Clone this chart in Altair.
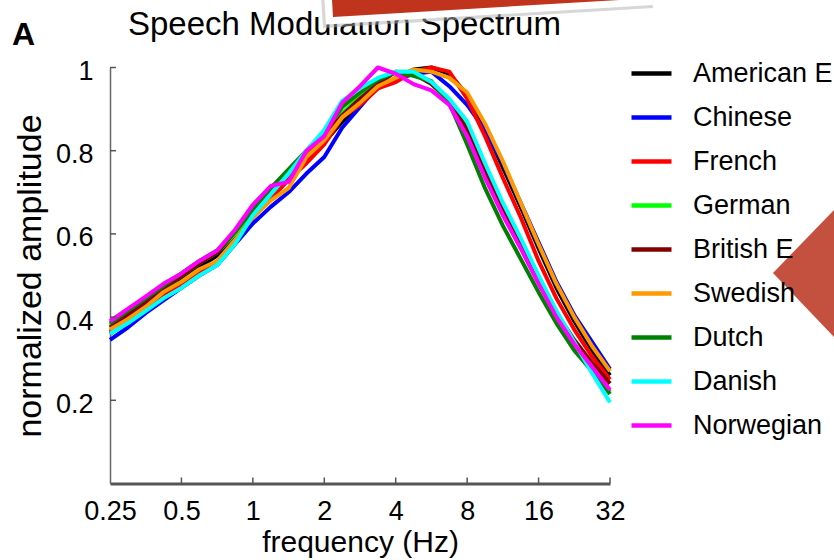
import altair as alt
import pandas as pd

# ---------------- data ----------------
freqs = [0.25, 0.297, 0.354, 0.42, 0.5, 0.595, 0.707, 0.841, 1.0, 1.189, 1.414,
         1.682, 2.0, 2.378, 2.828, 3.364, 4.0, 4.757, 5.657, 6.727, 8.0, 9.514,
         11.31, 13.45, 16.0, 19.03, 22.63, 26.91, 32.0]

languages = ["American E", "Chinese", "French", "German", "British E",
             "Swedish", "Dutch", "Danish", "Norwegian"]
colors = ["#000000", "#0000FF", "#FF0000", "#00FF00", "#800000",
          "#FF9900", "#008000", "#00FFFF", "#FF00FF"]

american_e = [0.36, 0.39, 0.425, 0.46, 0.49, 0.52, 0.548, 0.59, 0.645, 0.69, 0.735, 0.775, 0.82, 0.87, 0.91, 0.95,
              0.975, 0.995, 1.0, 0.985, 0.935, 0.855, 0.76, 0.665, 0.565, 0.47, 0.39, 0.32, 0.26]
chinese = [0.345, 0.375, 0.41, 0.44, 0.47, 0.50, 0.525, 0.575, 0.625, 0.665, 0.70, 0.745, 0.785, 0.855, 0.905, 0.955,
           0.97, 0.985, 0.99, 0.955, 0.91, 0.85, 0.77, 0.675, 0.58, 0.485, 0.405, 0.34, 0.275]
french = [0.365, 0.395, 0.425, 0.455, 0.48, 0.51, 0.53, 0.585, 0.64, 0.685, 0.73, 0.77, 0.815, 0.88, 0.91, 0.95,
          0.965, 0.99, 1.0, 0.99, 0.925, 0.835, 0.735, 0.64, 0.535, 0.445, 0.37, 0.305, 0.25]
german = [0.38, 0.41, 0.44, 0.47, 0.50, 0.53, 0.555, 0.60, 0.655, 0.70, 0.745, 0.795, 0.84, 0.89, 0.93, 0.965,
          0.99, 0.99, 0.965, 0.92, 0.86, 0.76, 0.67, 0.585, 0.495, 0.41, 0.34, 0.28, 0.22]
british_e = [0.375, 0.405, 0.435, 0.47, 0.50, 0.53, 0.555, 0.605, 0.66, 0.71, 0.75, 0.79, 0.835, 0.885, 0.925, 0.96,
             0.99, 0.985, 0.96, 0.92, 0.85, 0.75, 0.66, 0.575, 0.49, 0.41, 0.345, 0.29, 0.24]
swedish = [0.37, 0.395, 0.425, 0.46, 0.485, 0.515, 0.535, 0.585, 0.64, 0.68, 0.71, 0.785, 0.825, 0.88, 0.915, 0.955,
           0.975, 0.995, 0.99, 0.975, 0.94, 0.865, 0.775, 0.675, 0.575, 0.48, 0.40, 0.33, 0.27]
dutch = [0.385, 0.415, 0.445, 0.475, 0.505, 0.535, 0.56, 0.605, 0.66, 0.71, 0.755, 0.80, 0.845, 0.905, 0.94, 0.97,
         0.988, 0.98, 0.967, 0.915, 0.815, 0.71, 0.62, 0.54, 0.46, 0.385, 0.32, 0.27, 0.215]
danish = [0.36, 0.385, 0.415, 0.445, 0.47, 0.50, 0.525, 0.575, 0.645, 0.695, 0.745, 0.80, 0.85, 0.92, 0.95, 0.975,
          0.99, 0.99, 0.965, 0.925, 0.87, 0.77, 0.675, 0.59, 0.50, 0.415, 0.34, 0.265, 0.195]
norwegian = [0.39, 0.42, 0.45, 0.48, 0.505, 0.535, 0.56, 0.61, 0.67, 0.715, 0.725, 0.80, 0.835, 0.915, 0.955, 1.0,
             0.985, 0.96, 0.945, 0.91, 0.835, 0.735, 0.645, 0.565, 0.48, 0.40, 0.335, 0.28, 0.225]

x_ticks = [0.25, 0.5, 1, 2, 4, 8, 16, 32]
y_ticks = [0.2, 0.4, 0.6, 0.8, 1.0]

series = [american_e, chinese, french, german, british_e, swedish, dutch, danish, norwegian]
rows = []
for lang, vals in zip(languages, series):
    for f, v in zip(freqs, vals):
        rows.append({"language": lang, "freq": f, "amp": v})
df = pd.DataFrame(rows)

# ---------------- chart ----------------
FONT = "Liberation Sans"
W, H = 500, 416

xscale = alt.Scale(type="log", base=2, domain=[0.25, 32], nice=False)
yscale = alt.Scale(domain=[0, 1], nice=False, zero=True)

xaxis = alt.Axis(values=x_ticks, format="~g", title="frequency (Hz)",
                 labelFont=FONT, titleFont=FONT, labelColor="black", titleColor="black",
                 labelFontSize=27, labelPadding=15, ticks=False,
                 domainColor="#555555", domainWidth=3, labelFlush=False,
                 labelOverlap=False, titleFontSize=30, titleFontWeight="normal",
                 titleY=68, titleBaseline="alphabetic", grid=False)
yaxis = alt.Axis(values=y_ticks, format="~g", title="normalized amplitude",
                 labelFont=FONT, titleFont=FONT, labelColor="black", titleColor="black",
                 labelFontSize=27, labelPadding=17, labelOffset=4, ticks=False,
                 domainColor="#666666", domainWidth=1.5, labelFlush=False,
                 labelOverlap=False, titleFontSize=34, titleFontWeight="normal",
                 titleX=-70, titleBaseline="alphabetic", grid=False)

lines = alt.Chart(df).mark_line(strokeWidth=4, strokeJoin="round").encode(
    x=alt.X("freq:Q", scale=xscale, axis=xaxis),
    y=alt.Y("amp:Q", scale=yscale, axis=yaxis),
    color=alt.Color("language:N", sort=languages,
                    scale=alt.Scale(domain=languages, range=colors),
                    legend=alt.Legend(title=None, orient="none", legendX=519, legendY=-16.5,
                                      symbolType="stroke", symbolSize=1600,
                                      symbolStrokeWidth=4.5, labelFontSize=27,
                                      labelFont=FONT, labelColor="black",
                                      labelOffset=19, rowPadding=8, padding=0,
                                      labelLimit=300)),
)

xt = alt.Chart(pd.DataFrame({"freq": x_ticks[1:]})).mark_rule(color="#555555", strokeWidth=1.5).encode(
    x=alt.X("freq:Q", scale=xscale, axis=xaxis),
    y=alt.value(H), y2=alt.value(H - 6),
)
yt = alt.Chart(pd.DataFrame({"amp": y_ticks})).mark_rule(color="#555555", strokeWidth=1.5).encode(
    y=alt.Y("amp:Q", scale=yscale, axis=yaxis),
    x=alt.value(0), x2=alt.value(6),
)

title_txt = alt.Chart(pd.DataFrame({"s": ["Speech Modulation Spectrum"]})).mark_text(
    align="left", baseline="alphabetic", fontSize=33, font=FONT, color="black"
).encode(text="s:N", x=alt.value(18), y=alt.value(-33))

panel_txt = alt.Chart(pd.DataFrame({"s": ["A"]})).mark_text(
    align="left", baseline="alphabetic", fontSize=32, font=FONT, fontWeight="bold", color="black"
).encode(text="s:N", x=alt.value(-98), y=alt.value(-23))

# slide decorations (banner at top, arrow at right)
deco = pd.DataFrame({"k": [0]})
banner_shadow = alt.Chart(deco).mark_point(
    shape="M-10,11 L320,-9 L316,-90 L-15,-70 Z", size=4, filled=True,
    fill="#b0b0b0", opacity=0.5, strokeWidth=0
).encode(x=alt.value(223), y=alt.value(-50.5))
banner_border = alt.Chart(deco).mark_point(
    shape="M-7,7.5 L320,-12 L316,-90 L-12,-70 Z", size=4, filled=True,
    fill="white", opacity=1, strokeWidth=0
).encode(x=alt.value(223), y=alt.value(-50.5))
banner = alt.Chart(deco).mark_point(
    shape="M0,0 L320,-19 L316,-90 L-4,-70 Z", size=4, filled=True,
    fill="#C0341D", opacity=1, strokeWidth=0
).encode(x=alt.value(223), y=alt.value(-50.5))
triangle = alt.Chart(deco).mark_point(
    shape="M-61,0 L0,-63 L0,64 Z", size=4, filled=True,
    fill="#C4503F", strokeWidth=0, opacity=1
).encode(x=alt.value(724), y=alt.value(205.5))

chart = alt.layer(
    lines, xt, yt, title_txt, panel_txt, banner_shadow, banner_border, banner, triangle
).properties(
    width=W, height=H,
    padding={"left": 110, "top": 67.5, "right": 224, "bottom": 76.5},
    autosize=alt.AutoSizeParams(type="none"),
    background="white",
    view=alt.ViewBackground(stroke="transparent", strokeWidth=0),
).configure(
    view={"stroke": "transparent", "strokeWidth": 0},
    style={"cell": {"stroke": "transparent", "strokeWidth": 0}},
)

chart.save("out.html", embed_options={"renderer": "svg", "actions": False})
